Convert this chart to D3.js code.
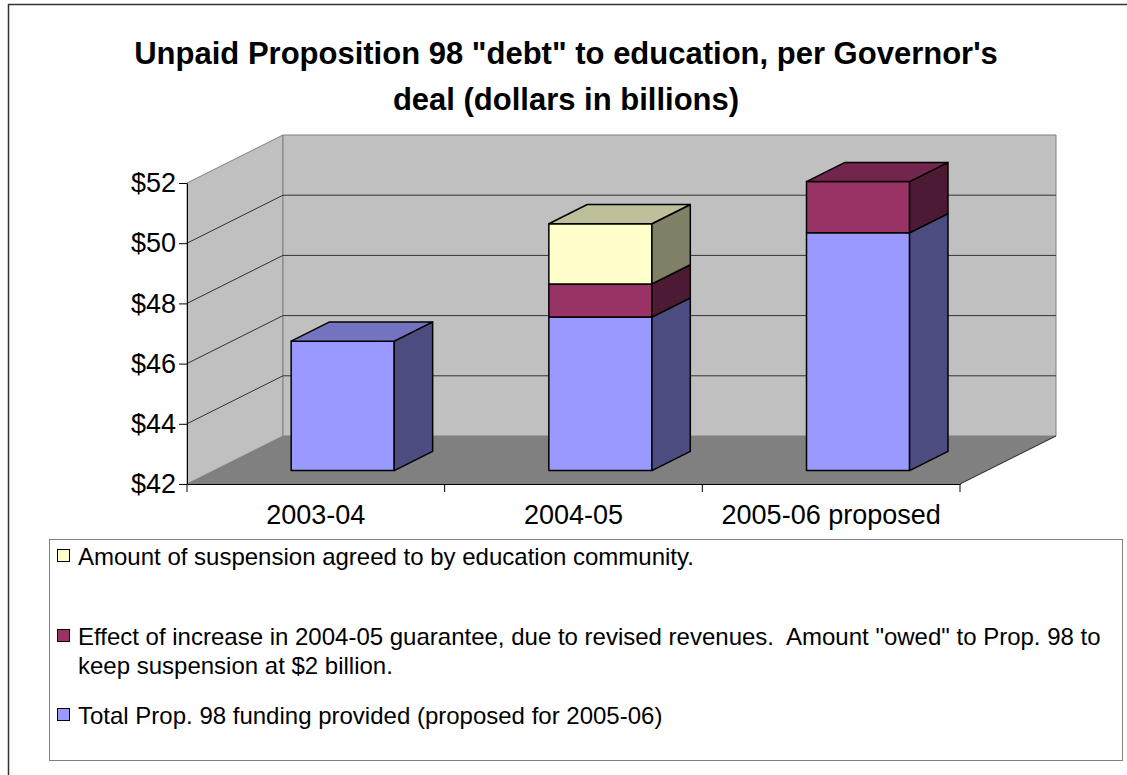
<!DOCTYPE html>
<html>
<head>
<meta charset="utf-8">
<script src="https://cdn.jsdelivr.net/npm/d3@7"></script>
<style>
  body { margin: 0; background: #fff; }
  svg { display: block; font-family: "Liberation Sans", Arial, sans-serif; }
</style>
</head>
<body>
<div id="chart"></div>
<script>
// Dados (bilhões de dólares)
const categories = ["2003-04", "2004-05", "2005-06 proposed"];
const funding = [46.3, 47.1, 49.9];
const owed = [0, 1.1, 1.7];
const suspension = [0, 2.0, 0];
const yTicks = [42, 44, 46, 48, 50, 52];

const titleLines = ["Unpaid Proposition 98 \"debt\" to education, per Governor's", "deal (dollars in billions)"];
const legendItems = [
  {key: "suspension", lines: ["Amount of suspension agreed to by education community."]},
  {key: "owed", lines: ["Effect of increase in 2004-05 guarantee, due to revised revenues.  Amount \"owed\" to Prop. 98 to", "keep suspension at $2 billion."]},
  {key: "funding", lines: ["Total Prop. 98 funding provided (proposed for 2005-06)"]}
];

// cores: frente, lado, topo
const colors = {
  funding:    {front: "#9999FF", side: "#4C4C80", top: "#7373BF"},
  owed:       {front: "#993366", side: "#4D1A33", top: "#73264D"},
  suspension: {front: "#FFFFCC", side: "#808066", top: "#BFBF99"}
};

const width = 1127, height = 775;

const svg = d3.select("#chart")
  .append("svg")
  .attr("width", width)
  .attr("height", height);

// moldura externa
svg.append("rect")
  .attr("x", 8.5).attr("y", 4.5)
  .attr("width", 1130).attr("height", 800)
  .attr("fill", "#fff").attr("stroke", "#333").attr("stroke-width", 1.5);

// título
svg.append("text")
  .attr("text-anchor", "middle")
  .attr("font-size", 31)
  .attr("font-weight", "bold")
  .selectAll("tspan")
  .data(titleLines)
  .join("tspan")
  .attr("x", 566)
  .attr("y", (d, i) => 64 + i * 46)
  .text(d => d);

// escalas do plano frontal
const x = d3.scaleBand().domain(categories).range([187, 960]);
const y = d3.scaleLinear().domain([42, 52]).range([484, 183]);

// profundidade (projeção oblíqua)
const depth = {dx: 96, dy: -48};
const z0 = 0.28, z1 = 0.68;
const proj = (px, py, z) => [px + z * depth.dx, py + z * depth.dy];
const poly = pts => pts.map(p => p.join(",")).join(" ");

const x0 = x.range()[0], x1 = x.range()[1];
const yMin = y.domain()[0], yMax = y.domain()[1];

// paredes e chão
svg.append("polygon")
  .attr("points", poly([proj(x0, y(yMin), 0), proj(x0, y(yMax), 0), proj(x0, y(yMax), 1), proj(x0, y(yMin), 1)]))
  .attr("fill", "#C0C0C0").attr("stroke", "#808080");
svg.append("polygon")
  .attr("points", poly([proj(x0, y(yMax), 1), proj(x1, y(yMax), 1), proj(x1, y(yMin), 1), proj(x0, y(yMin), 1)]))
  .attr("fill", "#C0C0C0").attr("stroke", "#808080");
svg.append("polygon")
  .attr("points", poly([proj(x0, y(yMin), 0), proj(x1, y(yMin), 0), proj(x1, y(yMin), 1), proj(x0, y(yMin), 1)]))
  .attr("fill", "#808080");
svg.append("line")
  .attr("x1", x1).attr("y1", y(yMin))
  .attr("x2", proj(x1, y(yMin), 1)[0]).attr("y2", proj(x1, y(yMin), 1)[1])
  .attr("stroke", "#222");

// linhas de grade
svg.append("g")
  .selectAll("polyline")
  .data(yTicks.filter(t => t > yMin && t < yMax))
  .join("polyline")
  .attr("points", t => poly([proj(x0, y(t), 0), proj(x0, y(t), 1), proj(x1, y(t), 1)]))
  .attr("fill", "none")
  .attr("stroke", "#333");

// barras empilhadas em 3D
const barW = x.bandwidth() / 2.5;
const segments = [];
categories.forEach((c, i) => {
  const xl = x(c) + (x.bandwidth() - barW) / 2, xr = xl + barW;
  const stack = [["funding", funding[i]], ["owed", owed[i]], ["suspension", suspension[i]]];
  let base = yMin;
  const segs = [];
  stack.forEach(([key, v]) => {
    const top = key === "funding" ? v : base + v;
    if (top > base) segs.push({key, v0: base, v1: top, xl, xr});
    base = top;
  });
  segs.forEach((s, j) => { s.isTop = j === segs.length - 1; segments.push(s); });
});

const bars = svg.append("g")
  .attr("stroke", "#000")
  .attr("stroke-width", 1.5)
  .attr("stroke-linejoin", "round");

segments.forEach(s => {
  const c = colors[s.key];
  bars.append("polygon")
    .attr("points", poly([proj(s.xl, y(s.v0), z0), proj(s.xr, y(s.v0), z0), proj(s.xr, y(s.v1), z0), proj(s.xl, y(s.v1), z0)]))
    .attr("fill", c.front);
  bars.append("polygon")
    .attr("points", poly([proj(s.xr, y(s.v0), z0), proj(s.xr, y(s.v0), z1), proj(s.xr, y(s.v1), z1), proj(s.xr, y(s.v1), z0)]))
    .attr("fill", c.side);
  if (s.isTop) {
    bars.append("polygon")
      .attr("points", poly([proj(s.xl, y(s.v1), z0), proj(s.xr, y(s.v1), z0), proj(s.xr, y(s.v1), z1), proj(s.xl, y(s.v1), z1)]))
      .attr("fill", c.top);
  }
});

// eixo Y
const yAxis = svg.append("g")
  .attr("transform", `translate(${x0},0)`)
  .call(d3.axisLeft(y).tickValues(yTicks).tickFormat(d => "$" + d).tickSize(8).tickSizeOuter(0).tickPadding(3));
yAxis.attr("font-size", 27).attr("font-family", null);
yAxis.selectAll("text").attr("fill", "#000");

// eixo X
const xAxis = svg.append("g")
  .attr("transform", `translate(0,${y(yMin)})`)
  .call(d3.axisBottom(x).tickSize(0).tickSizeOuter(0).tickPadding(21));
xAxis.attr("font-size", 27).attr("font-family", null);
xAxis.selectAll("text").attr("fill", "#000");
xAxis.selectAll(".edge")
  .data(categories.map(c => x(c)).concat([x1]))
  .join("line")
  .attr("class", "edge")
  .attr("x1", d => d).attr("x2", d => d)
  .attr("y1", 0).attr("y2", 8)
  .attr("stroke", "#000");

// legenda
const legend = svg.append("g");
legend.append("rect")
  .attr("x", 49.5).attr("y", 539.5)
  .attr("width", 1073).attr("height", 221)
  .attr("fill", "#fff").attr("stroke", "#808080");

const entryY = [565, 645, 724];
legendItems.forEach((item, i) => {
  legend.append("rect")
    .attr("x", 57.5).attr("y", entryY[i] - 15.5)
    .attr("width", 12).attr("height", 12)
    .attr("fill", colors[item.key].front)
    .attr("stroke", "#000");
  legend.append("text")
    .attr("font-size", 24)
    .style("white-space", "pre")
    .selectAll("tspan")
    .data(item.lines)
    .join("tspan")
    .attr("x", 78)
    .attr("y", (d, j) => entryY[i] + j * 29)
    .text(d => d);
});
</script>
</body>
</html>
